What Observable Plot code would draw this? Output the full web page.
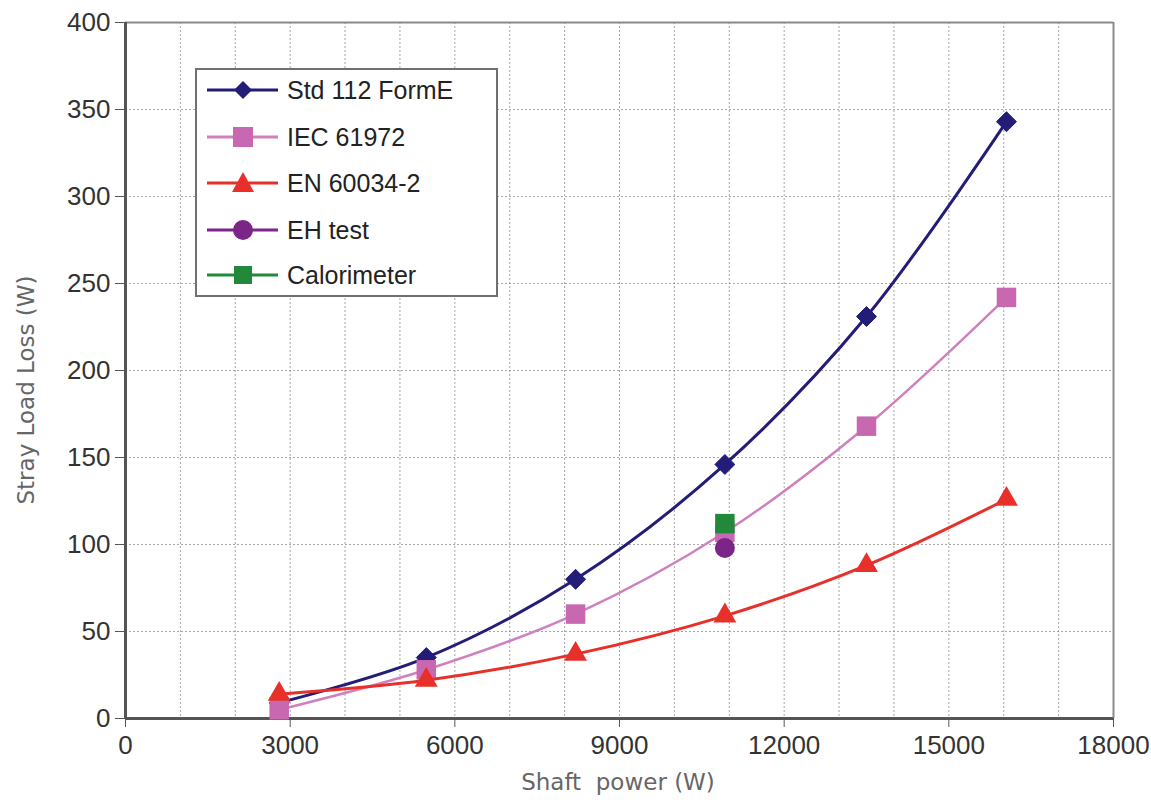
<!DOCTYPE html>
<html><head><meta charset="utf-8">
<script src="https://cdn.jsdelivr.net/npm/d3@7"></script>
<script src="https://cdn.jsdelivr.net/npm/@observablehq/plot@0.6"></script>
<style>
body{margin:0;background:#fff;}
#wrap{position:relative;width:1151px;height:800px;}
#legend{position:absolute;left:195px;top:68px;width:299px;height:225px;border:2px solid #707070;background:#fff;font-family:"Liberation Sans",Arial,sans-serif;font-size:25px;color:#222;}
.row{position:absolute;left:0;height:40px;display:flex;align-items:center;white-space:nowrap;}
.row svg{display:block;}
</style></head><body><div id="wrap"></div>
<script>
// Data
const power = [2800, 5480, 8200, 10920, 13500, 16050];
const std112 = [9, 35, 80, 146, 231, 343];
const iec61972 = [5, 28, 60, 107, 168, 242];
const en60034 = [14, 22, 37, 59, 88, 126];
const ehPower = [10920];
const ehTest = [98];
const calPower = [10920];
const calorimeter = [112];
const xTicks = [0, 3000, 6000, 9000, 12000, 15000, 18000];
const yTicks = [0, 50, 100, 150, 200, 250, 300, 350, 400];
const xGrid = d3.range(0, 18001, 1000);
const seriesNames = ["Std 112 FormE", "IEC 61972", "EN 60034-2", "EH test", "Calorimeter"];
const seriesColors = ["#231d78", "#c868b0", "#e8302a", "#7a2587", "#23893a"];
const lineColors = ["#231d78", "#cf80bd", "#e8302a", "#7a2587", "#23893a"];
const xLabel = "Shaft  power (W)";
const yLabel = "Stray Load Loss (W)";

const toRows = (xs, ys) => xs.map((x, i) => ({x, y: ys[i]}));
const sStd = toRows(power, std112);
const sIec = toRows(power, iec61972);
const sEn = toRows(power, en60034);
const sEh = toRows(ehPower, ehTest);
const sCal = toRows(calPower, calorimeter);

const chart = Plot.plot({
  width: 1151,
  height: 800,
  marginLeft: 125,
  marginRight: 38,
  marginTop: 22,
  marginBottom: 82,
  style: {fontFamily: "'Liberation Sans', Arial, sans-serif", fontSize: "26px", color: "#333", background: "#fff"},
  x: {domain: [0, 18000]},
  y: {domain: [0, 400]},
  marks: [
    Plot.gridX(xGrid, {stroke: "#8a8a8a", strokeOpacity: 0.75, strokeDasharray: "2,2"}),
    Plot.gridY(yTicks, {stroke: "#8a8a8a", strokeOpacity: 0.75, strokeDasharray: "2,2"}),
    Plot.ruleY([400], {stroke: "#8a8a8a", strokeWidth: 2}),
    Plot.ruleX([18000], {stroke: "#8a8a8a", strokeWidth: 2}),
    Plot.axisY(yTicks, {tickSize: 10, tickPadding: 5, label: null, fontSize: 26, stroke: "#555", fill: "#333"}),
    Plot.axisX(xTicks, {tickSize: 9, tickPadding: 8, label: null, fontSize: 26, stroke: "#555", fill: "#333", tickFormat: d => String(d)}),
    Plot.ruleX([0], {stroke: "#555", strokeWidth: 3}),
    Plot.ruleY([0], {stroke: "#555", strokeWidth: 3}),
    Plot.line(sStd, {x: "x", y: "y", stroke: lineColors[0], strokeWidth: 3, curve: "catmull-rom"}),
    Plot.dot(sStd, {x: "x", y: "y", symbol: "diamond2", r: 9, fill: seriesColors[0], stroke: seriesColors[0], strokeWidth: 1}),
    Plot.line(sIec, {x: "x", y: "y", stroke: lineColors[1], strokeWidth: 2.5, curve: "catmull-rom"}),
    Plot.dot(sIec, {x: "x", y: "y", symbol: "square", r: 11, fill: seriesColors[1]}),
    Plot.line(sEn, {x: "x", y: "y", stroke: lineColors[2], strokeWidth: 3, curve: "catmull-rom"}),
    Plot.dot(sEn, {x: "x", y: "y", symbol: "triangle", r: 8.5, fill: seriesColors[2]}),
    Plot.dot(sEh, {x: "x", y: "y", symbol: "circle", r: 10, fill: seriesColors[3]}),
    Plot.dot(sCal, {x: "x", y: "y", symbol: "square", r: 11, fill: seriesColors[4]})
  ]
});

const svg = d3.select(chart);
svg.append("text")
  .attr("transform", "translate(34,390) rotate(-90)")
  .attr("text-anchor", "middle")
  .style("font-family", "'DejaVu Sans', sans-serif")
  .style("font-size", "23px")
  .style("fill", "#666")
  .style("white-space", "pre")
  .text(yLabel);
svg.append("text")
  .attr("x", 618)
  .attr("y", 790)
  .attr("text-anchor", "middle")
  .style("font-family", "'DejaVu Sans', sans-serif")
  .style("font-size", "23px")
  .style("fill", "#666")
  .style("white-space", "pre")
  .text(xLabel);

const wrap = document.getElementById("wrap");
wrap.appendChild(chart);

// Legend
const legend = document.createElement("div");
legend.id = "legend";
const rowCenters = [22, 69, 115, 162, 207];
const shapes = [
  c => `<polygon points="46,${20-9} ${46+9},20 46,${20+9} ${46-9},20" fill="${c}"/>`,
  c => `<rect x="36" y="10" width="20" height="20" fill="${c}"/>`,
  c => `<polygon points="46,9 ${46+11},29 ${46-11},29" fill="${c}"/>`,
  c => `<circle cx="46" cy="20" r="10" fill="${c}"/>`,
  c => `<rect x="37" y="11" width="18" height="18" fill="${c}"/>`
];
seriesNames.forEach((name, i) => {
  const row = document.createElement("div");
  row.className = "row";
  row.style.top = (rowCenters[i] - 22) + "px";
  row.innerHTML = `<svg width="90" height="40"><line x1="10" x2="81" y1="20" y2="20" stroke="${lineColors[i]}" stroke-width="3"/>${shapes[i](seriesColors[i])}</svg><span>${name}</span>`;
  legend.appendChild(row);
});
wrap.appendChild(legend);
</script>
</body></html>
